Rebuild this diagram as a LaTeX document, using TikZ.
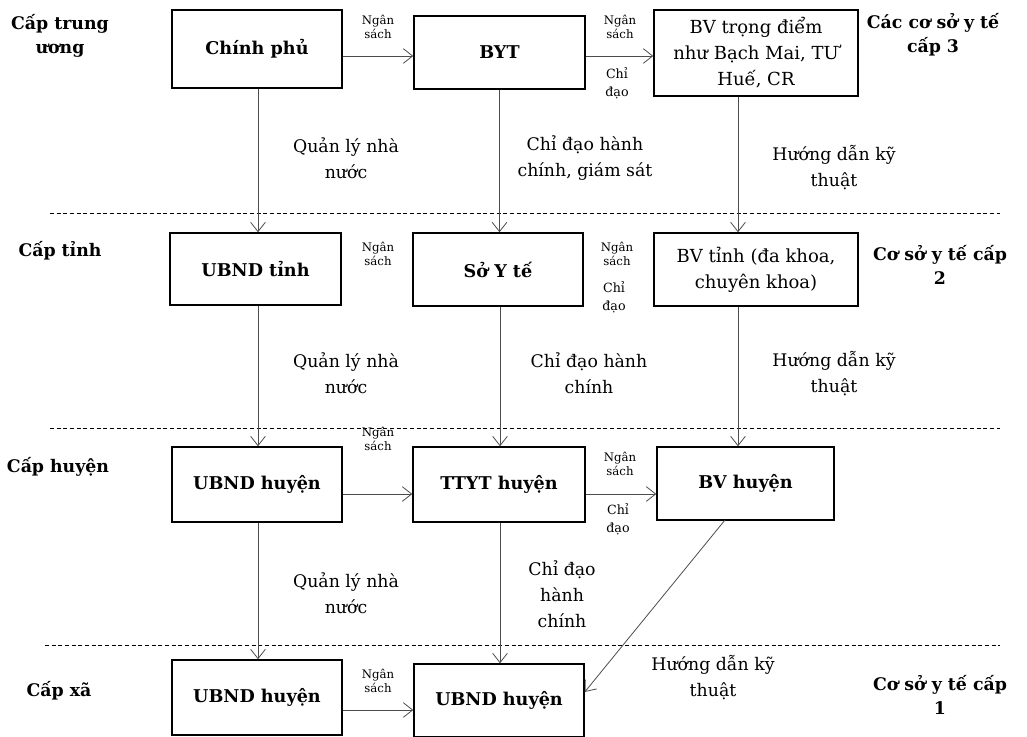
\documentclass[tikz,border=0pt]{standalone}
\usepackage{fontspec}
\setmainfont{DejaVu Serif}
\usetikzlibrary{arrows.meta}

\tikzset{
  box/.style={draw, line width=1.1pt, align=center, inner sep=2pt,
    font=\bfseries\fontsize{13.2}{15}\selectfont},
  bvbox/.style={draw, line width=1.1pt, align=center, inner sep=2pt,
    font=\fontsize{13.5}{19.5}\selectfont},
  level/.style={align=center, font=\bfseries\fontsize{13}{18}\selectfont},
  lbl/.style={align=center, font=\fontsize{13}{19.5}\selectfont},
  small/.style={align=center, font=\fontsize{8.8}{11}\selectfont},
  mid/.style={align=center, font=\fontsize{9.5}{13.5}\selectfont},
  conn/.style={draw=black!70, line width=0.6pt, ->},
  sep/.style={dashed, dash pattern=on 3pt off 2pt, line width=0.5pt}
}

\begin{document}
\begin{tikzpicture}[x=0.75pt, y=-0.75pt, >={Straight Barb[length=7pt, width=11pt]}]
\useasboundingbox (0,0) rectangle (1027,737);

\draw[sep] (50,213) -- (1000,213);
\draw[sep] (50,428) -- (1000,428);
\draw[sep] (45,645) -- (1000,645);

\node[level] (lv1) at (60,36) {Cấp trung\\ương};
\node[level] (lv2) at (60,251) {Cấp tỉnh};
\node[level] (lv3) at (58,467) {Cấp huyện};
\node[level] (lv4) at (59,691) {Cấp xã};
\node[level] (cs3) at (933,35) {Các cơ sở y tế\\cấp 3};
\node[level] (cs2) at (940,265) {Cơ sở y tế cấp\\2};
\node[level] (cs1) at (940,695) {Cơ sở y tế cấp\\1};

\node[box, minimum width=127.5pt, minimum height=58.5pt] (cp) at (257,49) {Chính phủ};
\node[box, minimum width=128.25pt, minimum height=54.75pt] (byt) at (499.5,52.5) {BYT};
\node[bvbox, minimum width=153pt, minimum height=64.5pt] (bvtw) at (756,53) {BV trọng điểm\\như Bạch Mai, TƯ\\Huế, CR};

\node[box, minimum width=128.25pt, minimum height=54pt] (ubt) at (255.5,269) {UBND tỉnh};
\node[box, minimum width=127.5pt, minimum height=54.75pt] (syt) at (498,269.5) {Sở Y tế};
\node[bvbox, minimum width=153pt, minimum height=54.75pt] (bvt) at (756,269.5) {BV tỉnh (đa khoa,\\chuyên khoa)};

\node[box, minimum width=127.5pt, minimum height=56.25pt] (ubh) at (257,484.5) {UBND huyện};
\node[box, minimum width=129pt, minimum height=56.25pt] (ttyt) at (499,484.5) {TTYT huyện};
\node[box, minimum width=132.75pt, minimum height=54.75pt] (bvh) at (745.5,483.5) {BV huyện};

\node[box, minimum width=127.5pt, minimum height=56.25pt] (ubx) at (257,697.5) {UBND huyện};
\node[box, minimum width=127.5pt, minimum height=54.75pt] (tyx) at (499,700.5) {UBND huyện};

\draw[conn] (cp.east |- 0,56) -- (byt.west |- 0,56);
\draw[conn] (byt.east |- 0,56) -- (bvtw.west |- 0,56);
\draw[conn] (ubh.east |- 0,494) -- (ttyt.west |- 0,494);
\draw[conn] (ttyt.east |- 0,494) -- (bvh.west |- 0,494);
\draw[conn] (ubx.east |- 0,710) -- (tyx.west |- 0,710);

\draw[conn] (cp.south -| 258,0) -- (ubt.north -| 258,0);
\draw[conn] (byt.south) -- (byt.south |- syt.north);
\draw[conn] (bvtw.south -| 738,0) -- (bvt.north -| 738,0);
\draw[conn] (ubt.south -| 258,0) -- (ubh.north -| 258,0);
\draw[conn] (syt.south -| 500,0) -- (ttyt.north -| 500,0);
\draw[conn] (bvt.south -| 738,0) -- (bvh.north -| 738,0);
\draw[conn] (ubh.south -| 258,0) -- (ubx.north -| 258,0);
\draw[conn] (ttyt.south -| 500,0) -- (tyx.north -| 500,0);
\coordinate (bvhout) at (725,520);
\draw[conn] (bvhout) -- (tyx.east |- 0,692);

\node[small] (ns1) at (378,27) {Ngân\\sách};
\node[small] (ns2) at (620,27) {Ngân\\sách};
\node[small] (ns3) at (378,254) {Ngân\\sách};
\node[small] (ns4) at (617,254) {Ngân\\sách};
\node[small] (ns5) at (378,439) {Ngân\\sách};
\node[small] (ns6) at (620,464) {Ngân\\sách};
\node[small] (ns7) at (378,681) {Ngân\\sách};
\node[mid] (cd1) at (617,83) {Chỉ\\đạo};
\node[mid] (cd2) at (614,297) {Chỉ\\đạo};
\node[mid] (cd3) at (618,519) {Chỉ\\đạo};

\node[lbl] (ql1) at (346,158) {Quản lý nhà\\nước};
\node[lbl] (hc1) at (585,158) {Chỉ đạo hành\\chính, giám sát};
\node[lbl] (hd1) at (834,168) {Hướng dẫn kỹ\\thuật};
\node[lbl] (ql2) at (346,373) {Quản lý nhà\\nước};
\node[lbl] (hc2) at (589,373) {Chỉ đạo hành\\chính};
\node[lbl] (hd2) at (834,374) {Hướng dẫn kỹ\\thuật};
\node[lbl] (ql3) at (346,593) {Quản lý nhà\\nước};
\node[lbl] (hc3) at (562,594) {Chỉ đạo\\hành\\chính};
\node[lbl] (hd3) at (713,678) {Hướng dẫn kỹ\\thuật};
\end{tikzpicture}
\end{document}
